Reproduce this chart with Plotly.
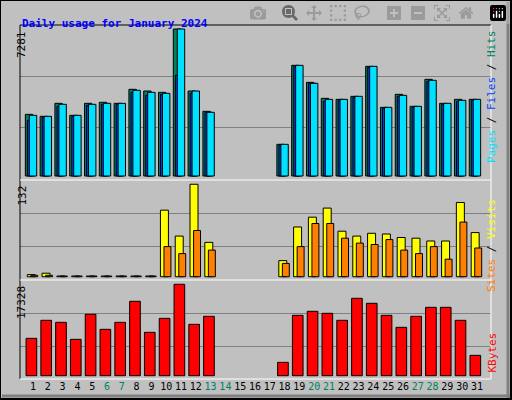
import plotly.graph_objects as go

days = list(range(1, 32))
weekend = [6, 7, 13, 14, 20, 21, 27, 28]
hits_z = [343,349,310,346,310,307,310,268,273,277,87,273,334,None,None,None,None,433,196,247,295,298,289,199,322,283,319,238,310,298,298]
files_z = [346,349,313,346,313,310,310,271,277,280,87,273,337,None,None,None,None,433,196,250,298,298,289,199,322,286,319,241,310,301,298]
pages_z = [361,352,319,349,316,313,313,277,286,283,226,280,337,None,None,None,None,436,199,250,304,301,292,202,325,289,322,244,313,304,301]
conv = lambda a: [None if v is None else round((528 - v) / 441 * 7281) for v in a]
hits = conv(hits_z)
files = conv(files_z)
pages = conv(pages_z)
visits = [3,5,1,1,1,1,1,1,1,95,58,132,49,None,None,None,None,23,71,85,98,65,58,62,61,56,55,51,51,106,63]
sites = [2,2,1,1,1,1,1,1,1,43,33,66,38,None,None,None,None,19,43,76,76,55,48,46,53,38,33,43,25,78,41]
kbytes = [7083,10498,10118,6893,11636,8790,10118,14103,8221,10877,17328,9739,11257,None,None,None,None,2530,11447,12205,11826,10498,14672,13723,11447,9170,11257,12964,12964,10498,3858]
tick_labels = [f'<span style="color:#00805C">{d}</span>' if d in weekend else str(d) for d in days]

line = dict(color="black", width=1)
fig = go.Figure()
def bar(y, color, off, w, ax):
    fig.add_trace(go.Bar(x=days, y=y, marker=dict(color=color, line=line), offset=off, width=w,
                         xaxis="x" if ax == 1 else f"x{ax}", yaxis="y" if ax == 1 else f"y{ax}"))
bar(hits, "#00805C", -0.52, 0.5, 1)
bar(pages, "#0040FF", -0.38, 0.5, 1)
bar(files, "#00E0FF", -0.25, 0.5, 1)
bar(visits, "#FFFF00", -0.39, 0.54, 2)
bar(sites, "#FF8000", -0.15, 0.47, 2)
bar(kbytes, "#FF0000", -0.47, 0.72, 3)

xr = [0.12, 31.95]
font = dict(family="DejaVu Sans Mono", size=11, color="black")
xcommon = dict(range=xr, showgrid=False, zeroline=False, showline=False)
fig.update_layout(
    width=512, height=400, margin=dict(l=0, r=0, t=0, b=0),
    paper_bgcolor="#C0C0C0", plot_bgcolor="#C0C0C0", showlegend=False,
    barmode="overlay", font=font,
    xaxis=dict(**xcommon, anchor="y", showticklabels=False, domain=[20/512, 491/512]),
    xaxis2=dict(**xcommon, anchor="y2", showticklabels=False, domain=[20/512, 491/512]),
    xaxis3=dict(**xcommon, anchor="y3", tickmode="array", tickvals=days, ticktext=tick_labels,
                ticks="", tickangle=0, tickfont=dict(family="DejaVu Sans Mono", size=10, color="black"),
                domain=[20/512, 491/512]),
    yaxis=dict(domain=[1-179/400, 1-25/400], range=[-149, 7479], tickvals=[2425, 4950],
               showticklabels=False, gridcolor="#808080", zeroline=False),
    yaxis2=dict(domain=[0.3, 0.55], range=[-4.7, 138.1], tickvals=[43.4, 90.5],
                showticklabels=False, gridcolor="#808080", zeroline=False),
    yaxis3=dict(domain=[1-379/400, 0.3], range=[-626, 18143], tickvals=[5628, 11826],
                showticklabels=False, gridcolor="#808080", zeroline=False),
)
shapes = []
def L(x0, y0, x1, y1, c, w=1):
    shapes.append(dict(type="line", xref="paper", yref="paper", x0=x0/512, y0=1-y0/400,
                       x1=x1/512, y1=1-y1/400, line=dict(color=c, width=w)))
L(0, 0.5, 512, 0.5, "black"); L(0.5, 0, 0.5, 400, "black")
L(511, 0, 511, 400, "black", 2); L(0, 399, 512, 399, "black", 2)
L(2, 396, 510, 396, "#808080", 3); L(508, 2, 508, 398, "#808080", 3)
L(20, 25, 491, 25, "black"); L(20, 25, 20, 379, "black")
L(491, 25, 491, 379, "white"); L(20, 379, 491, 379, "white")
L(20, 180, 491, 180, "white"); L(20, 280, 491, 280, "white")
fig.update_layout(shapes=shapes)

ann = []
def A(x, y, text, angle=0, color="black", **kw):
    ann.append(dict(x=x/512, y=1-y/400, xref="paper", yref="paper", text=text, textangle=angle,
                    showarrow=False, font=dict(family="DejaVu Sans Mono", size=11, color=color), **kw))
A(20, 15, "<b>Daily usage for January 2024</b>", color="#0000FF", xanchor="left")
A(13, 29, "7281", -90, yanchor="top")
A(13, 184, "132", -90, yanchor="top")
A(13, 284, "17328", -90, yanchor="top")
A(500, 28, '<span style="color:#00E0FF">Pages</span> / <span style="color:#0040FF">Files</span> / <span style="color:#00805C">Hits</span>', -90, yanchor="top")
A(500, 197, '<span style="color:#FF8000">Sites</span> / <span style="color:#FFFF00">Visits</span>', -90, yanchor="top")
A(500, 375, '<span style="color:#FF0000">KBytes</span>', -90, yanchor="bottom")
fig.update_layout(annotations=ann)
fig.write_html("out.html", post_script="document.body.style.margin='0';document.body.style.padding='0';")
